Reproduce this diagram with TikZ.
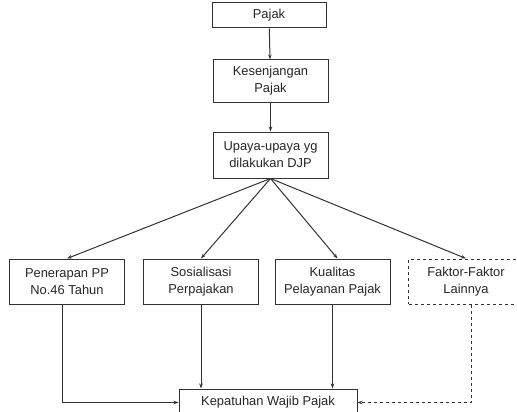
\documentclass[tikz,border=0pt]{standalone}
\usepackage{fontspec}
\setmainfont{Liberation Sans}
\usetikzlibrary{positioning}
\usetikzlibrary{arrows.meta}

\begin{document}
\begin{tikzpicture}[x=1pt,y=-1pt,
    every node/.style={draw=black!80, line width=1pt, align=center, inner sep=0pt,
      text=black!85, font=\fontsize{12.9}{17}\selectfont},
    kotak/.style={minimum width=115pt, minimum height=45pt},
    panah/.style={-{Stealth[length=5pt,width=3.5pt]}, draw=black!80, line width=1pt}]
            \useasboundingbox (0,0) rectangle (517,412);
            \clip (0,0) rectangle (517,412);
            % Kotak
            \node[minimum width=114pt, minimum height=25pt] (pajak) at (269,15.5) {Pajak};
            \node[minimum width=115pt, minimum height=42pt] (gap) at (270.5,81) {Kesenjangan\\Pajak};
            \node[minimum width=115pt, minimum height=46pt] (upaya) at (270.5,155) {Upaya-upaya yg\\dilakukan DJP};
            \node[kotak] (pp) at (67,281.5) {Penerapan PP\\No.46 Tahun};
            \node[kotak] (sos) at (201,281.5) {Sosialisasi\\Perpajakan};
            \node[kotak] (kual) at (332.5,281.5) {Kualitas\\Pelayanan Pajak};
            \node[kotak, dashed] (faktor) at (466,281.5) {Faktor-Faktor\\Lainnya};
            \node[minimum width=178pt, minimum height=27pt] (patuh) at (268,402.5) {Kepatuhan Wajib Pajak};

            % Panah
            \draw[panah] (pajak) -- (gap);
            \draw[panah] (gap) -- (upaya);
            \draw[panah] (upaya.south) -- (pp.north);
            \draw[panah] (upaya.south) -- (sos.north);
            \draw[panah] (upaya.south) -- ([xshift=5pt]kual.north);
            \draw[panah] (upaya.south) -- (faktor.north);
            \draw[panah] ([xshift=-5pt]pp.south) |- (patuh.west);
            \draw[panah] (sos.south) -- (sos.south |- patuh.north);
            \draw[panah] (kual.south) -- (kual.south |- patuh.north);
            \draw[panah, dashed] ([xshift=5pt]faktor.south) |- (patuh.east);
          \end{tikzpicture}
\end{document}
